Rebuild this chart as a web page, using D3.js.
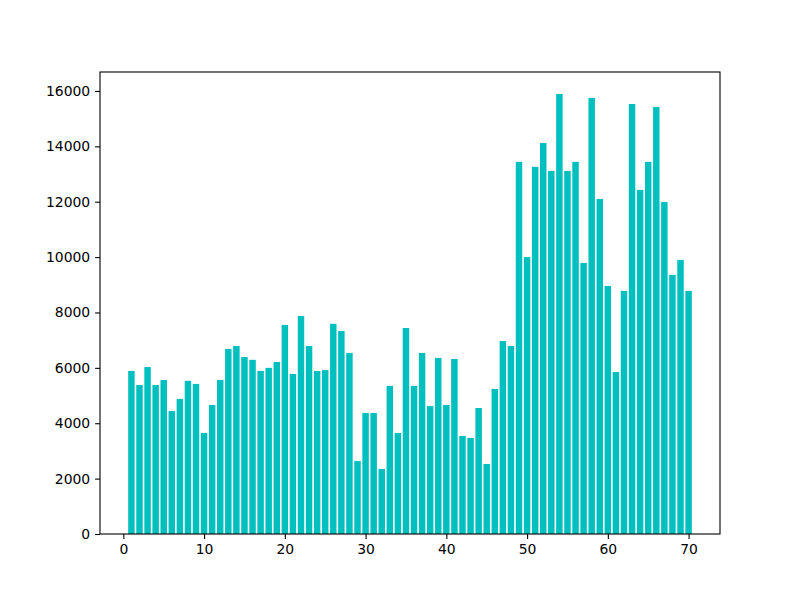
<!DOCTYPE html>
<html>
<head>
<meta charset="utf-8">
<script src="https://cdn.jsdelivr.net/npm/d3@7"></script>
<style>
  html, body { margin: 0; padding: 0; background: #fff; }
  svg { display: block; }
</style>
</head>
<body>
<svg id="chart" width="800" height="600"></svg>
<script>
const categories = d3.range(1, 71);
const values = [
  5890, 5380, 6030, 5380, 5560, 4440, 4880, 5530, 5420, 3650,
  4660, 5560, 6680, 6790, 6390, 6290, 5890, 6000, 6210, 7550,
  5780, 7870, 6790, 5890, 5920, 7590, 7330, 6540, 2640, 4370,
  4370, 2350, 5350, 3650, 7440, 5350, 6540, 4620, 6360, 4660,
  6320, 3540, 3470, 4550, 2530, 5240, 6970, 6790, 13440, 10000,
  13260, 14120, 13110, 15890, 13110, 13440, 9790, 15750, 12100, 8960,
  5850, 8780, 15530, 12430, 13440, 15420, 11990, 9360, 9900, 8780
];
const yTicks = [0, 2000, 4000, 6000, 8000, 10000, 12000, 14000, 16000];
const xTicks = [0, 10, 20, 30, 40, 50, 60, 70];

(function () {
const svg = d3.select("#chart");
const mL = 100, mR = 720, mT = 72, mB = 534;
const barW = 0.8;
const xmin = 1 - barW / 2, xmax = 70 + barW / 2;
const xpad = (xmax - xmin) * 0.05;
const x = d3.scaleLinear().domain([xmin - xpad, xmax + xpad]).range([mL, mR]);
const y = d3.scaleLinear().domain([0, d3.max(values) * 1.05]).range([mB, mT]);

svg.append("g").selectAll("rect").data(categories).join("rect")
  .attr("x", (d) => x(d - barW / 2))
  .attr("width", (d) => x(d + barW / 2) - x(d - barW / 2))
  .attr("y", (d, i) => y(values[i]))
  .attr("height", (d, i) => y(0) - y(values[i]))
  .attr("fill", "#00bfbf");

const fontSize = "13.9px";
const xAxis = svg.append("g").attr("transform", `translate(0,${mB})`)
  .call(d3.axisBottom(x).tickValues(xTicks).tickSize(4.9).tickPadding(4.9).tickFormat(d3.format("d")));
const yAxis = svg.append("g").attr("transform", `translate(${mL},0)`)
  .call(d3.axisLeft(y).tickValues(yTicks).tickSize(4.9).tickPadding(4.9).tickFormat(d3.format("d")));
[xAxis, yAxis].forEach(g => {
  g.select(".domain").remove();
  g.selectAll("line").attr("stroke", "#000").attr("stroke-width", 1.1);
  g.selectAll("text").attr("font-family", "DejaVu Sans").attr("font-size", fontSize).attr("fill", "#000");
});

svg.append("rect")
  .attr("x", mL).attr("y", mT)
  .attr("width", mR - mL).attr("height", mB - mT)
  .attr("fill", "none").attr("stroke", "#000").attr("stroke-width", 1.1);
})();
</script>
</body>
</html>
